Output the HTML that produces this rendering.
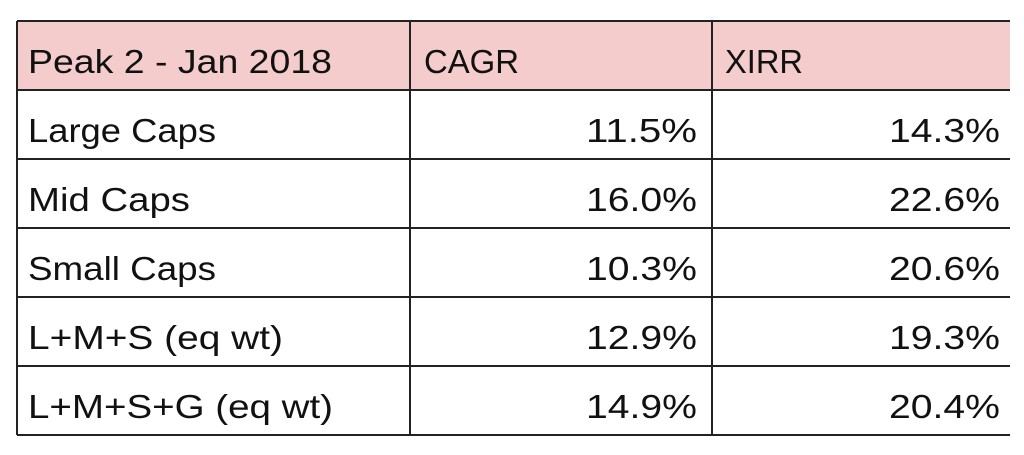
<!DOCTYPE html>
<html><head><meta charset="utf-8"><style>
html,body{margin:0;padding:0;background:#fff;width:1024px;height:455px;overflow:hidden}
text{font-family:"Liberation Sans",sans-serif;fill:#111}
</style></head><body>
<svg id="t" width="1024" height="455" viewBox="0 0 1024 455" xmlns="http://www.w3.org/2000/svg"></svg>
<script>
const headers = ["Peak 2 - Jan 2018","CAGR","XIRR"];
const categories = ["Large Caps","Mid Caps","Small Caps","L+M+S (eq wt)","L+M+S+G (eq wt)"];
const cagr = [11.5,16.0,10.3,12.9,14.9];
const xirr = [14.3,22.6,20.6,19.3,20.4];
const labelWidths = [188,162,188,255,305];

const svg=document.getElementById('t');
const NS='http://www.w3.org/2000/svg';
const L=17,R=1010,T=21,H=69,C1=410,C2=712;
function el(tag,attrs){const e=document.createElementNS(NS,tag);for(const k in attrs)e.setAttribute(k,attrs[k]);svg.appendChild(e);return e;}
const rows=categories.length+1;
const B=T+H*rows;
const hdr=el('rect',{x:L,y:T,width:R-L,height:H,fill:'#f4cccc'});


for(let i=0;i<=rows;i++){
  const ln=el('line',{x1:L,x2:R,y1:T+H*i,y2:T+H*i,stroke:'#222','stroke-width':2});
  
  
}
[L,C1,C2].forEach(x=>{
  const ln=el('line',{x1:x,x2:x,y1:T,y2:B,stroke:'#222','stroke-width':2});
  
  
});
const fs=33;
const h0=el('text',{x:28,y:T+52,'font-size':fs,textLength:304,lengthAdjust:'spacingAndGlyphs'});h0.textContent=headers[0];


const h1=el('text',{x:424,y:T+52,'font-size':fs,textLength:95,lengthAdjust:'spacingAndGlyphs'});h1.textContent=headers[1];


const h2=el('text',{x:725,y:T+52,'font-size':fs,textLength:78,lengthAdjust:'spacingAndGlyphs'});h2.textContent=headers[2];


categories.forEach((c,i)=>{
  const y=T+H*(i+1)+52;
  const a=el('text',{x:28,y:y,'font-size':fs,textLength:labelWidths[i],lengthAdjust:'spacingAndGlyphs'});a.textContent=c;
  
  
  const b=el('text',{x:697,y:y,'font-size':fs,'text-anchor':'end',textLength:111,lengthAdjust:'spacingAndGlyphs'});b.textContent=cagr[i].toFixed(1)+'%';
  
  
  const d=el('text',{x:1000,y:y,'font-size':fs,'text-anchor':'end',textLength:111,lengthAdjust:'spacingAndGlyphs'});d.textContent=xirr[i].toFixed(1)+'%';
  
  
});
</script>
</body></html>
